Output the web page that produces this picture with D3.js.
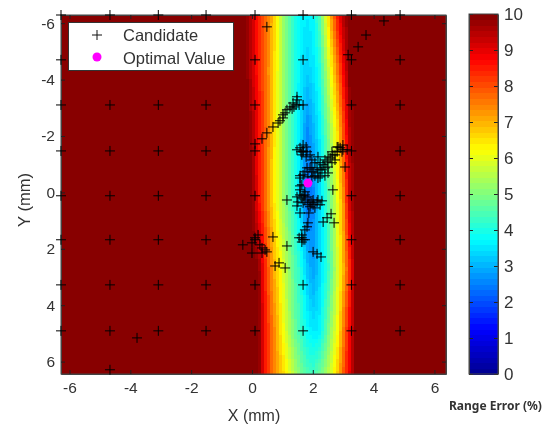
<!DOCTYPE html>
<html><head><meta charset="utf-8">
<script src="https://cdn.jsdelivr.net/npm/d3@7"></script>
<style>html,body{margin:0;padding:0;background:#fff}svg{display:block;filter:blur(0.3px)}</style>
</head><body><svg id="c" width="552" height="426"></svg>
<script>
const xTicks=[-6,-4,-2,0,2,4,6];
const yTicks=[-6,-4,-2,0,2,4,6];
const cbTicks=[0,1,2,3,4,5,6,7,8,9,10];
const heatX=[-0.2,0,0.2,0.4,0.6,0.8,1,1.2,1.4,1.6,1.8,2,2.2,2.4,2.6,2.8,3,3.2,3.4];
const heatY=[-6.29,-4.34,-2.22,0.27,2.75,4.88,6.44];
const row0=[10,9.3,8.5,7.9,7.2,6.4,5.4,4.7,4.1,3.7,3.6,3.7,4.4,5.8,7.2,8.5,9.5,10,10];
const row1=[10,9.3,8.5,7.9,7.1,6.25,5.4,4.7,4.1,3.6,3.3,3.5,3.9,5.1,6.25,7.5,8.75,10,10];
const row2=[10,9.7,8.75,8,7.1,6.1,5.4,4.7,4.05,3.4,2.6,3.0,3.55,4.5,5.5,6.5,8,9.5,10];
const row3=[10,10,8.75,7.9,7,6.1,5.4,4.7,4.05,3.3,2.3,2.5,3.25,4.05,5,6.05,7.3,9.2,10];
const row4=[10,10,10,8.6,7.5,6.75,6,5.25,4.55,4.05,3.25,2.8,3.3,3.9,4.7,5.8,6.95,8.25,10];
const row5=[10,10,10,8.75,7.9,7.1,6.25,5.5,4.8,4.3,3.8,3.55,3.6,4.4,5.3,6.1,7.5,8.75,10];
const row6=[10,10,10,8.75,7.9,7.2,6.7,6.1,5.45,4.9,4.5,4.35,4.75,5.2,5.9,6.7,7.85,8.9,10];
const heatRows=[row0,row1,row2,row3,row4,row5,row6];
const gridX=[-6.28,-4.67,-3.08,-1.51,0.10,1.68,3.27,4.87];
const gridY=[-6.29,-4.70,-3.10,-1.47,0.12,1.68,3.28,4.91];
const extras=[[-4.67,6.29],[-3.78,5.16],[0.49,-5.87],[4.34,-6.08],[3.75,-5.58],[3.49,-5.16],[3.16,-4.88]];
const upperArm=[[1.48,-3.39],[1.48,-3.28],[1.55,-3.10],[1.45,-3.10],[1.35,-3.17],[1.38,-3.03],[1.25,-3.03],[1.32,-2.96],[1.15,-2.93],[1.09,-2.82],[1.02,-2.75],[1.02,-2.64],[0.92,-2.54],[0.86,-2.46],[0.69,-2.32],[0.49,-2.11],[0.33,-1.90],[0.10,-1.72]];
const centre=[[1.68,-1.68],[1.48,-1.51],[1.58,-1.58],[1.68,-1.44],[1.64,-1.33],[1.81,-1.44],[1.91,-1.33],[1.97,-1.15],[2.17,-1.26],[2.99,-1.68],[2.90,-1.58],[2.80,-1.44],[2.96,-1.44],[2.83,-1.61],[2.66,-1.33],[2.73,-1.15],[2.57,-1.22],[2.47,-1.08],[2.63,-1.05],[2.50,-0.90],[2.34,-0.98],[2.30,-0.80],[2.14,-0.87],[3.06,-0.90],[2.17,-0.69],[2.01,-0.73],[1.97,-0.55],[1.81,-0.87],[1.84,-0.55],[1.68,-0.62],[2.24,-0.55],[2.50,-0.69],[1.91,-0.87],[2.07,-0.59],[2.40,-0.59],[1.58,-0.59],[2.24,-0.80],[2.99,-1.51],[2.80,-1.61],[2.63,-1.44],[2.50,-1.26],[2.73,-1.33],[2.40,-1.15],[2.24,-1.05],[2.07,-1.05],[2.40,-0.87],[2.17,-0.51],[1.97,-0.80],[1.74,-0.73],[1.58,-0.51],[3.13,-1.51],[1.78,-1.61],[1.61,-1.44],[1.78,-1.26]];
const lower=[[2.66,-0.09],[1.64,-0.27],[1.58,-0.09],[1.74,-0.02],[1.48,0.16],[1.64,0.20],[1.84,0.16],[2.01,0.27],[2.17,0.27],[1.15,0.27],[1.51,0.34],[1.68,0.37],[2.01,0.44],[1.84,0.44],[2.14,0.34],[2.30,0.30],[1.58,0.73],[1.87,0.73],[1.91,0.51],[1.97,0.37],[1.84,1.08],[1.81,1.22],[1.74,1.33],[2.60,0.76],[2.47,0.90],[2.34,1.05],[2.70,1.08],[1.64,1.51],[1.64,1.61],[1.64,1.76],[1.55,1.61],[1.74,1.68],[1.15,1.90],[2.01,2.11],[2.14,2.18],[2.27,2.29],[0.89,2.50],[0.76,2.61],[1.09,2.68],[1.58,0.09],[1.74,0.27],[1.91,0.34],[2.07,0.55],[2.24,0.44],[1.74,0.09],[1.58,-0.23],[1.48,0.48]];
const leftClump=[[-0.30,1.86],[0.20,1.51],[0.10,1.61],[0.00,1.79],[0.26,1.86],[0.33,1.97],[0.43,2.04],[0.49,2.11],[0.00,2.15],[0.33,2.15],[0.69,1.58]];
const optimal=[1.84,-0.33];
const legendLabels=["Candidate","Optimal Value"];
const xTitle="X (mm)",yTitle="Y (mm)",cbTitle="Range Error (%)";

const L=61,R=446,T=15,B=374,CL=469,CR=498,CT=14,CB=374;
const ink="#333";
const x=d3.scaleLinear().domain([-6.28,6.38]).range([L,R]);
const y=d3.scaleLinear().domain([-6.29,6.44]).range([T,B]);
const cb=d3.scaleLinear().domain([0,10]).range([CB,CT]);
const jet=d3.scaleLinear().domain([0,1.25,3.75,6.25,8.75,10]).range(["#00008f","#0000ff","#00ffff","#ffff00","#ff0000","#800000"]).clamp(true);
const levels=64, lvl=v=>jet((Math.min(levels-1,Math.floor(v/10*levels))+.5)/levels*10);

const svg=d3.select("#c");
const font="'Liberation Sans',Arial,sans-serif";
svg.append("rect").attr("x",L).attr("y",T).attr("width",R-L).attr("height",B-T).attr("fill",lvl(10));

const colScale=heatRows.map(r=>d3.scaleLinear().domain(heatX).range(r));
const cw=3,rh=4;
const g=svg.append("g").attr("shape-rendering","crispEdges");
for(let py=T;py<B;py+=rh){
  const yv=y.invert(py+rh/2);
  let i=d3.bisectRight(heatY,yv)-1; i=Math.max(0,Math.min(heatY.length-2,i));
  const t=(yv-heatY[i])/(heatY[i+1]-heatY[i]);
  for(let px=x(heatX[0]);px<x(heatX[heatX.length-1]);px+=cw){
    const xv=x.invert(px+cw/2);
    const v=colScale[i](xv)*(1-t)+colScale[i+1](xv)*t;
    g.append("rect").attr("x",px).attr("y",py).attr("width",cw+.5).attr("height",Math.min(rh+.5,B-py)).attr("fill",lvl(v));
  }
}
svg.append("rect").attr("x",L).attr("y",T).attr("width",R-L).attr("height",B-T).attr("fill","none").attr("stroke","#444");

function style(a,size){
  a.attr("font-family",font).attr("font-size",size).attr("color",ink);
  a.selectAll("text").attr("fill",ink);
  a.select(".domain").attr("stroke","#444");
  a.selectAll(".tick line").attr("stroke","#222");
}
const fmt=d=>String(d);
style(svg.append("g").attr("transform",`translate(0,${B})`).call(d3.axisBottom(x).tickValues(xTicks).tickFormat(fmt).tickSizeInner(-4).tickSizeOuter(0).tickPadding(8)),15.5);
style(svg.append("g").attr("transform",`translate(0,${T})`).call(d3.axisTop(x).tickValues(xTicks).tickFormat("").tickSizeInner(-4).tickSizeOuter(0)),15.5);
style(svg.append("g").attr("transform",`translate(${L},0)`).call(d3.axisLeft(y).tickValues(yTicks).tickFormat(fmt).tickSizeInner(-4).tickSizeOuter(0).tickPadding(6)),15.5);
style(svg.append("g").attr("transform",`translate(${R},0)`).call(d3.axisRight(y).tickValues(yTicks).tickFormat("").tickSizeInner(-4).tickSizeOuter(0)),15.5);

const cand=[];
gridY.forEach(gy=>gridX.forEach(gx=>cand.push([gx,gy])));
cand.push(...extras,...upperArm,...centre,...lower,...leftClump);
const plus=d3.symbol().type(({draw(c){c.moveTo(-5,0);c.lineTo(5,0);c.moveTo(0,-5);c.lineTo(0,5);}}));
svg.append("g").selectAll("path").data(cand).join("path")
  .attr("d",plus()).attr("transform",d=>`translate(${x(d[0])},${y(d[1])})`)
  .attr("fill","none").attr("stroke","#000").attr("stroke-width",1);
svg.append("circle").attr("cx",x(optimal[0])).attr("cy",y(optimal[1])).attr("r",4.5).attr("fill","#ff00ff");

const lg=svg.append("g");
lg.append("rect").attr("x",68.5).attr("y",22.5).attr("width",165).attr("height",48).attr("fill","#fff").attr("stroke","#333");
lg.append("path").attr("d",plus()).attr("transform","translate(97,35)").attr("fill","none").attr("stroke","#111");
lg.append("circle").attr("cx",97).attr("cy",57).attr("r",4.5).attr("fill","#ff00ff");
legendLabels.forEach((t,i)=>lg.append("text").attr("x",123).attr("y",41+i*23).attr("font-family",font).attr("font-size",16.5).attr("fill",ink).text(t));

svg.append("text").attr("x",254).attr("y",421).attr("text-anchor","middle").attr("font-family",font).attr("font-size",16).attr("fill",ink).text(xTitle);
svg.append("text").attr("transform","translate(30,200) rotate(-90)").attr("text-anchor","middle").attr("font-family",font).attr("font-size",16.5).attr("fill",ink).text(yTitle);
svg.append("text").attr("x",449).attr("y",410).attr("font-family","'Noto Sans',sans-serif").attr("font-weight","bold").attr("font-size",12).attr("fill",ink).text(cbTitle);

const cg=svg.append("g").attr("shape-rendering","crispEdges");
cg.selectAll("rect").data(d3.range(levels)).join("rect")
  .attr("x",CL).attr("width",CR-CL)
  .attr("y",d=>cb((d+1)/levels*10)).attr("height",(CB-CT)/levels+.5)
  .attr("fill",d=>jet((d+.5)/levels*10));
const ca=svg.append("g").attr("transform",`translate(${CR},0)`).call(d3.axisRight(cb).tickValues(cbTicks).tickFormat(fmt).tickSizeInner(-4).tickSizeOuter(0).tickPadding(6));
style(ca,17);
svg.append("g").attr("transform",`translate(${CL},0)`).call(d3.axisLeft(cb).tickValues(cbTicks).tickFormat("").tickSizeInner(-4).tickSizeOuter(0)).call(s=>{s.select(".domain").attr("stroke","#444");s.selectAll(".tick line").attr("stroke","#222");});
svg.append("rect").attr("x",CL).attr("y",CT).attr("width",CR-CL).attr("height",CB-CT).attr("fill","none").attr("stroke","#444");
</script></body></html>
